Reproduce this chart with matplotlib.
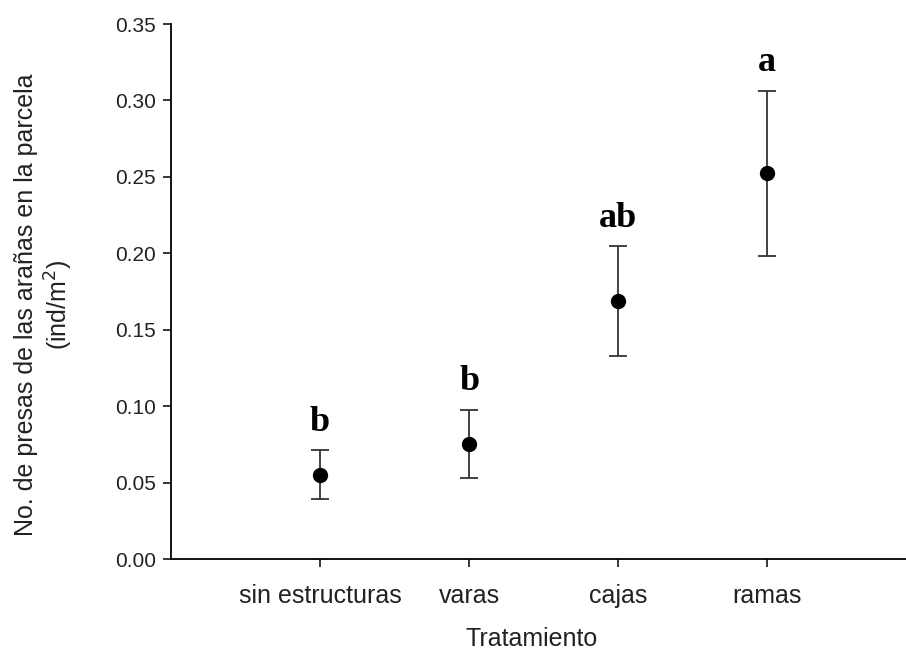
import matplotlib.pyplot as plt

# treatments and their mean prey density with standard error
tratamientos = ['sin estructuras', 'varas', 'cajas', 'ramas']
medias = [0.055, 0.0753, 0.1688, 0.2524]
error = [0.016, 0.0225, 0.036, 0.054]
letras = ['b', 'b', 'ab', 'a']

pos = list(range(1, len(tratamientos) + 1))

fig = plt.figure(figsize=(9.06, 6.51), dpi=100)
ax = fig.add_axes([0.1887, 0.1413, 0.8113, 0.8218])

ax.errorbar(pos, medias, yerr=error, fmt='o', color='black', ecolor='#333333',
            elinewidth=1.3, capsize=6.5, capthick=1.3, markersize=10)

# significance letters above each bar
for x, m, e, l in zip(pos, medias, error, letras):
    ax.annotate(l, xy=(x, m + e), xytext=(0, 14), textcoords='offset points',
                ha='center', va='baseline', fontsize=26, fontweight='bold',
                family='Liberation Serif')

ax.set_xlim(0, 4.93)
ax.set_ylim(0, 0.35)
ax.set_yticks([0.0, 0.05, 0.10, 0.15, 0.20, 0.25, 0.30, 0.35])
ax.set_yticklabels(['%.2f' % v for v in ax.get_yticks()])
ax.set_xticks(pos)
ax.set_xticklabels(tratamientos)

for s in ['top', 'right']:
    ax.spines[s].set_visible(False)
for s in ['left', 'bottom']:
    ax.spines[s].set_linewidth(1.3)

ax.tick_params(direction='out', length=6, width=1.1, pad=5,
               labelcolor='#222222')
ax.tick_params(axis='y', labelsize=15)
ax.tick_params(axis='x', labelsize=18, pad=12)
for t in ax.get_xticklabels() + ax.get_yticklabels():
    t.set_family('Liberation Sans')

ax.set_xlabel('Tratamiento', fontsize=18, family='Liberation Sans',
              color='#222222')
ax.xaxis.set_label_coords(0.491, -0.127)
ax.set_ylabel('No. de presas de las arañas en la parcela\n(ind/m$^2$)',
              fontsize=18, family='Liberation Sans', color='#222222',
              linespacing=1.2)
ax.yaxis.set_label_coords(-0.131, 0.475)

fig.savefig('out.png', dpi=100)
